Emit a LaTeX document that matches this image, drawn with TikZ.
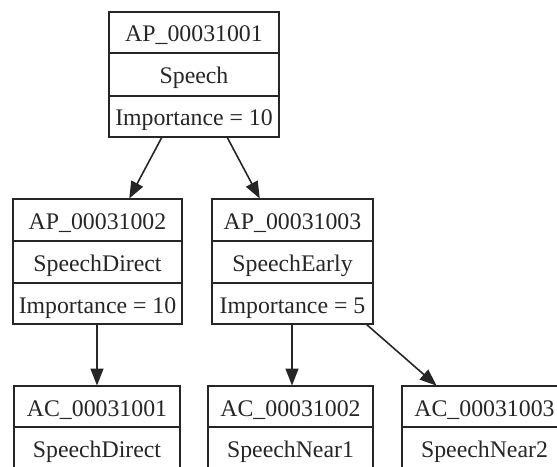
\documentclass[tikz,border=0pt]{standalone}
\usepackage{fontspec}
\setmainfont{Liberation Serif}
\usetikzlibrary{arrows.meta}
\definecolor{ink}{gray}{0.15}
\tikzset{
  recbox/.style={draw=ink, line width=1.6pt, fill=white, inner sep=0pt, outer sep=0pt, anchor=north west},
  divider/.style={draw=ink, line width=1.6pt},
  lbl/.style={anchor=base, inner sep=0pt, text=ink, font=\fontsize{23.8}{26}\selectfont},
  edge/.style={draw=ink, line width=1.6pt, -{Triangle[length=17pt,width=13pt]}, shorten >=0.5pt}
}
\begin{document}
\begin{tikzpicture}[x=1pt, y=-1pt]
\useasboundingbox (0,0) rectangle (557,466);
\clip (0,0) rectangle (557,466);
% top record
\node[recbox, minimum width=170pt, minimum height=125pt] (n1) at (109,12) {};
\draw[divider] ([yshift=-41pt]n1.north west) -- ([yshift=-41pt]n1.north east);
\draw[divider] ([yshift=-84pt]n1.north west) -- ([yshift=-84pt]n1.north east);
\node[lbl] (n1a) at ([yshift=-29pt]n1.north) {AP\_00031001};
\node[lbl] (n1b) at ([yshift=-71pt]n1.north) {Speech};
\node[lbl] (n1c) at ([yshift=-113pt]n1.north) {Importance = 10};
% middle left
\node[recbox, minimum width=169pt, minimum height=125pt] (n2) at (13,199) {};
\draw[divider] ([yshift=-42pt]n2.north west) -- ([yshift=-42pt]n2.north east);
\draw[divider] ([yshift=-84pt]n2.north west) -- ([yshift=-84pt]n2.north east);
\node[lbl] (n2a) at ([yshift=-30pt]n2.north) {AP\_00031002};
\node[lbl] (n2b) at ([yshift=-72pt]n2.north) {SpeechDirect};
\node[lbl] (n2c) at ([yshift=-114pt]n2.north) {Importance = 10};
% middle right
\node[recbox, minimum width=161pt, minimum height=125pt] (n3) at (212,199) {};
\draw[divider] ([yshift=-42pt]n3.north west) -- ([yshift=-42pt]n3.north east);
\draw[divider] ([yshift=-84pt]n3.north west) -- ([yshift=-84pt]n3.north east);
\node[lbl] (n3a) at ([yshift=-30pt]n3.north) {AP\_00031003};
\node[lbl] (n3b) at ([yshift=-72pt]n3.north) {SpeechEarly};
\node[lbl] (n3c) at ([yshift=-114pt]n3.north) {Importance = 5};
% bottom left
\node[recbox, minimum width=166pt, minimum height=83pt] (n4) at (14,386) {};
\draw[divider] ([yshift=-41pt]n4.north west) -- ([yshift=-41pt]n4.north east);
\node[lbl] (n4a) at ([yshift=-30pt]n4.north) {AC\_00031001};
\node[lbl] (n4b) at ([yshift=-71pt]n4.north) {SpeechDirect};
% bottom middle
\node[recbox, minimum width=165pt, minimum height=83pt] (n5) at (208,386) {};
\draw[divider] ([yshift=-41pt]n5.north west) -- ([yshift=-41pt]n5.north east);
\node[lbl] (n5a) at ([yshift=-30pt]n5.north) {AC\_00031002};
\node[lbl] (n5b) at ([yshift=-71pt]n5.north) {SpeechNear1};
% bottom right
\node[recbox, minimum width=165pt, minimum height=83pt] (n6) at (402,386) {};
\draw[divider] ([yshift=-41pt]n6.north west) -- ([yshift=-41pt]n6.north east);
\node[lbl] (n6a) at ([yshift=-30pt]n6.north) {AC\_00031003};
\node[lbl] (n6b) at ([yshift=-71pt]n6.north) {SpeechNear2};
% edges
\draw[edge] ([xshift=-32pt]n1.south) -- ([xshift=31.5pt]n2.north);
\draw[edge] ([xshift=33pt]n1.south) -- ([xshift=-32.5pt]n3.north);
\draw[edge] ([xshift=-0.5pt]n2.south) -- ([xshift=0pt]n4.north);
\draw[edge] ([xshift=-0.5pt]n3.south) -- ([xshift=1.5pt]n5.north);
\draw[edge] ([xshift=73.5pt]n3.south) -- ([xshift=-47.5pt]n6.north);
\end{tikzpicture}
\end{document}
